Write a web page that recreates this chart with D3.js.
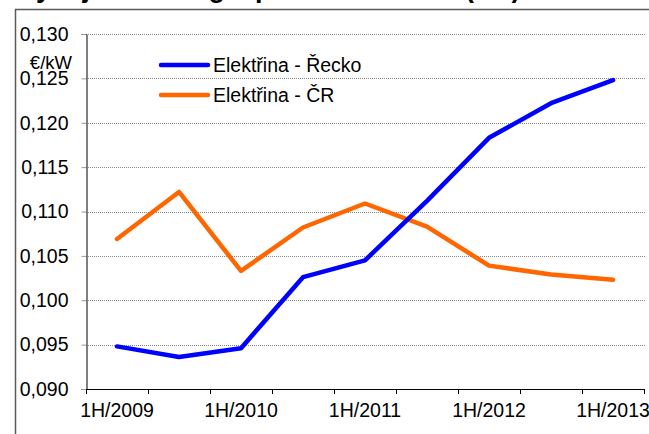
<!DOCTYPE html>
<html>
<head>
<meta charset="utf-8">
<script src="https://cdn.jsdelivr.net/npm/d3@7"></script>
<style>
  body { margin: 0; background: #fff; }
  svg { display: block; font-family: "Liberation Sans", Arial, sans-serif; }
</style>
</head>
<body>
<div id="chart"></div>
<script>
// categories (half-years) and series
var periods = ["1H/2009", "2H/2009", "1H/2010", "2H/2010", "1H/2011", "2H/2011", "1H/2012", "2H/2012", "1H/2013"];
var tickLabels = ["1H/2009", "1H/2010", "1H/2011", "1H/2012", "1H/2013"];
var recko = [0.0948, 0.0936, 0.0946, 0.1026, 0.1045, 0.1112, 0.1183, 0.1222, 0.1248];
var cr = [0.1069, 0.1122, 0.1033, 0.1082, 0.1109, 0.1083, 0.1039, 0.1029, 0.1023];
var yTicks = [0.090, 0.095, 0.100, 0.105, 0.110, 0.115, 0.120, 0.125, 0.130];
var seriesNames = ["Elektřina - Řecko", "Elektřina - ČR"];

var chartW = 649, chartH = 434;
var plotLeft = 86, plotRight = 644, plotTop = 34, plotBottom = 389;
var fontSize = "19.5px";

var svg = d3.select("#chart").append("svg")
    .attr("width", chartW)
    .attr("height", chartH);

// cut-off title at the very top
svg.append("text")
    .attr("x", 18)
    .attr("y", -3)
    .style("font-size", "27px")
    .style("font-weight", "bold")
    .text("Vývoj cen energie pro domácnosti (EU)");

// outer frame
svg.append("rect")
    .attr("x", 15.5)
    .attr("y", 9.5)
    .attr("width", 700)
    .attr("height", 500)
    .attr("fill", "none")
    .attr("stroke", "#5a5a5a")
    .attr("stroke-width", 1.5);

var loc = d3.formatLocale({ decimal: ",", thousands: " ", grouping: [3], currency: ["", "€"] });
var fmt = loc.format(".3f");

var xBand = d3.scaleBand().domain(periods).range([plotLeft, plotRight]).paddingInner(0).paddingOuter(0);
var x = d3.scalePoint().domain(periods).range([plotLeft, plotRight]).padding(0.5);
var y = d3.scaleLinear().domain([0.090, 0.130]).range([plotBottom, plotTop]);

// gridlines
svg.append("g")
    .selectAll("line")
    .data(yTicks.filter(function (d) { return d > 0.090; }))
    .enter().append("line")
    .attr("x1", plotLeft)
    .attr("x2", plotRight + 1)
    .attr("y1", function (d) { return Math.round(y(d)) + 0.5; })
    .attr("y2", function (d) { return Math.round(y(d)) + 0.5; })
    .attr("stroke", "#8a8a8a")
    .attr("stroke-dasharray", "1,1");

// y axis
var yAxis = d3.axisLeft(y).tickValues(yTicks).tickFormat(fmt).tickSize(5).tickPadding(13);
var gy = svg.append("g")
    .attr("transform", "translate(" + (plotLeft + 0.5) + ",0)")
    .call(yAxis);
gy.select(".domain").attr("stroke", "#000");
gy.selectAll(".tick line").attr("stroke", "#999");
gy.selectAll(".tick text")
    .attr("fill", "#000")
    .style("font-size", fontSize)
    .style("font-family", "Liberation Sans, Arial, sans-serif");

// unit label
svg.append("text")
    .attr("x", 72)
    .attr("y", 69)
    .attr("text-anchor", "end")
    .style("font-size", "18.5px")
    .text("€/kW");

// x axis line and boundary ticks
svg.append("line")
    .attr("x1", plotLeft)
    .attr("x2", plotRight + 1)
    .attr("y1", plotBottom + 0.5)
    .attr("y2", plotBottom + 0.5)
    .attr("stroke", "#000");

var bounds = periods.map(function (p) { return xBand(p); }).concat([plotRight]);
svg.append("g")
    .selectAll("line")
    .data(bounds)
    .enter().append("line")
    .attr("x1", function (d) { return Math.round(d) + 0.5; })
    .attr("x2", function (d) { return Math.round(d) + 0.5; })
    .attr("y1", plotBottom)
    .attr("y2", plotBottom + 5)
    .attr("stroke", "#000");

svg.append("g")
    .selectAll("text")
    .data(tickLabels)
    .enter().append("text")
    .attr("x", function (d) { return x(d); })
    .attr("y", plotBottom + 28)
    .attr("text-anchor", "middle")
    .style("font-size", fontSize)
    .text(function (d) { return d; });

// lines
var line = d3.line()
    .x(function (d, i) { return x(periods[i]); })
    .y(function (d) { return y(d); });

var series = [
    { name: seriesNames[0], values: recko, color: "#0000ff" },
    { name: seriesNames[1], values: cr, color: "#ff6600" }
];

svg.append("g")
    .selectAll("path")
    .data(series.slice().reverse())
    .enter().append("path")
    .attr("d", function (d) { return line(d.values); })
    .attr("fill", "none")
    .attr("stroke", function (d) { return d.color; })
    .attr("stroke-width", 4.5)
    .attr("stroke-linejoin", "round")
    .attr("stroke-linecap", "round");

// legend
var leg = svg.append("g")
    .selectAll("g")
    .data(series)
    .enter().append("g")
    .attr("transform", function (d, i) { return "translate(161," + (65 + i * 30) + ")"; });

leg.append("line")
    .attr("x1", 0)
    .attr("x2", 47)
    .attr("stroke", function (d) { return d.color; })
    .attr("stroke-width", 4.5)
    .attr("stroke-linecap", "round");

leg.append("text")
    .attr("x", 52)
    .attr("y", 7)
    .style("font-size", fontSize)
    .text(function (d) { return d.name; });
</script>
</body>
</html>
